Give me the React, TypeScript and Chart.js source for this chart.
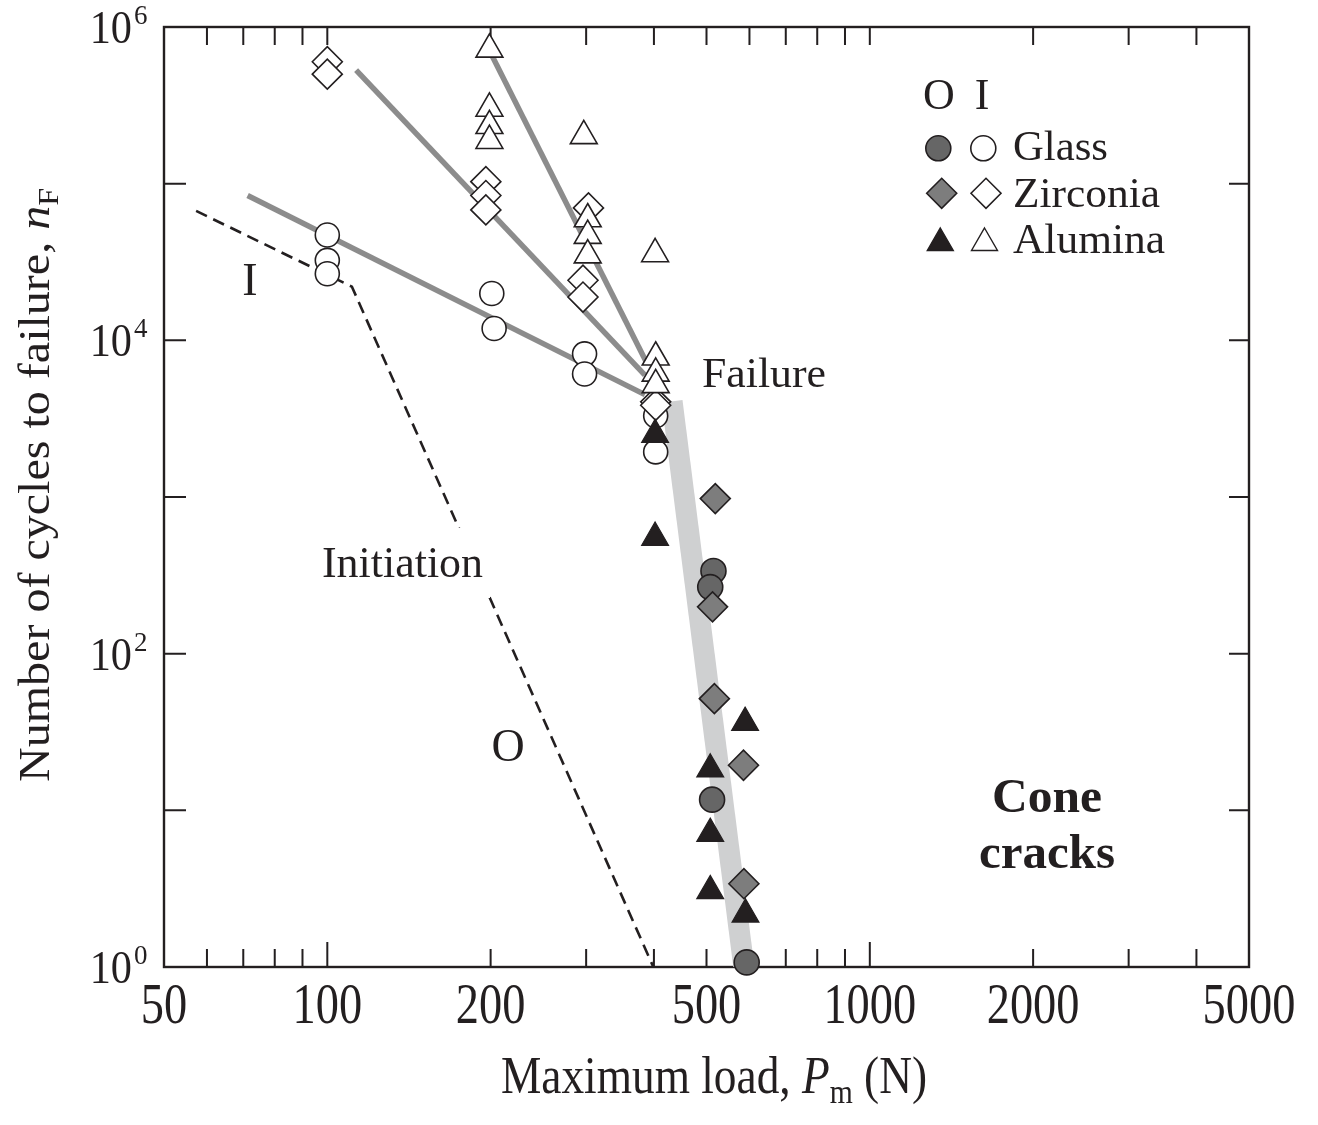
import React, { useEffect, useRef } from 'react';
import { Chart, registerables } from 'chart.js';

Chart.register(...registerables);

const FONT = "'Liberation Serif', 'Times New Roman', serif";
const INK = '#231f20';

// ---------- data (load P in N, cycles n) ----------
// Glass, outer (O) cone cracks - filled circles
const glassOLoad = [515, 508, 512, 593];
const glassOCycles = [337, 266, 11.7, 1.07];
// Zirconia, outer (O) - filled diamonds
const zirconiaOLoad = [519, 513, 517, 585, 586];
const zirconiaOCycles = [977, 199, 51.6, 19.4, 3.4];
// Alumina, outer (O) - filled triangles
const aluminaOLoad = [402, 402, 589, 508, 508, 508, 590];
const aluminaOCycles = [2500, 551, 36.3, 18.3, 7.1, 3.06, 2.17];
// Glass, inner (I) - open circles
const glassILoad = [100, 100, 100, 201, 203, 298, 298, 403, 403];
const glassICycles = [4.7e4, 3.24e4, 2.66e4, 1.99e4, 1.19e4, 8.2e3, 6.1e3, 3.3e3, 1.94e3];
// Zirconia, inner (I) - open diamonds
const zirconiaILoad = [100, 100, 196, 196, 196, 303, 296, 296, 403, 403];
const zirconiaICycles = [6.0e5, 5.0e5, 1.03e5, 8.4e4, 6.8e4, 7.0e4, 2.42e4, 1.89e4, 4.05e3, 3.85e3];
// Alumina, inner (I) - open triangles
const aluminaILoad = [199, 199, 199, 199, 297, 302, 302, 302, 402, 403, 403, 403];
const aluminaICycles = [7.2e5, 3.02e5, 2.34e5, 1.88e5, 2.02e5, 5.95e4, 4.66e4, 3.5e4, 3.56e4, 7.8e3, 6.15e3, 5.2e3];

// fitted lines
const glassFitLoad = [71.3, 385];
const glassFitCycles = [8.4e4, 4.5e3];
const zirconiaFitLoad = [113, 385];
const zirconiaFitCycles = [5.3e5, 6.0e3];
const aluminaFitLoad = [201, 387];
const aluminaFitCycles = [6.6e5, 7.3e3];
const failureBandLoad = [432, 586];
const failureBandCycles = [4.08e3, 1];
const initiationLoad = [57.3, 111, 399];
const initiationCycles = [6.7e4, 2.2e4, 1];

// axes
const xMin = 50;
const xMax = 5000;
const yMin = 1;
const yMax = 1e6;
const xTickValues = [60, 70, 80, 90, 100, 200, 300, 400, 500, 600, 700, 800, 900, 1000, 2000, 3000, 4000];
const xLongTicks = [100, 1000];
const xTickLabels = [50, 100, 200, 500, 1000, 2000, 5000];
const yTickValues = [10, 100, 1e3, 1e4, 1e5];
const yLabelExponents = [0, 2, 4, 6];

const legendRows = ['Glass', 'Zirconia', 'Alumina'];

const pts = (xs: number[], ys: number[]) => xs.map((x, i) => ({ x, y: ys[i] }));

type Run = { text: string; font: string; dy?: number };

function runsWidth(ctx: CanvasRenderingContext2D, runs: Run[]) {
  let w = 0;
  for (const r of runs) {
    ctx.font = r.font;
    w += ctx.measureText(r.text).width;
  }
  return w;
}

function drawRuns(
  ctx: CanvasRenderingContext2D,
  runs: Run[],
  x: number,
  y: number,
  align: 'left' | 'center' | 'right',
  scaleX: number,
  rotate = 0
) {
  const w = runsWidth(ctx, runs);
  ctx.save();
  ctx.translate(x, y);
  if (rotate) ctx.rotate(rotate);
  ctx.scale(scaleX, 1);
  ctx.textAlign = 'left';
  ctx.textBaseline = 'alphabetic';
  ctx.fillStyle = INK;
  let s = align === 'center' ? -w / 2 : align === 'right' ? -w : 0;
  for (const r of runs) {
    ctx.font = r.font;
    ctx.fillText(r.text, s, r.dy || 0);
    s += ctx.measureText(r.text).width;
  }
  ctx.restore();
}

function fitRuns(
  ctx: CanvasRenderingContext2D,
  runs: Run[],
  x: number,
  y: number,
  align: 'left' | 'center' | 'right',
  target: number,
  rotate = 0
) {
  const w = runsWidth(ctx, runs);
  drawRuns(ctx, runs, x, y, align, target / w, rotate);
}

function marker(
  ctx: CanvasRenderingContext2D,
  kind: 'circle' | 'diamond' | 'triangle',
  x: number,
  y: number,
  r: number,
  fill: string,
  lw: number
) {
  ctx.beginPath();
  if (kind === 'circle') {
    ctx.arc(x, y, r, 0, Math.PI * 2);
  } else if (kind === 'diamond') {
    ctx.moveTo(x - r, y);
    ctx.lineTo(x, y - r);
    ctx.lineTo(x + r, y);
    ctx.lineTo(x, y + r);
    ctx.closePath();
  } else {
    ctx.moveTo(x, y - r);
    ctx.lineTo(x + 0.866 * r, y + r / 2);
    ctx.lineTo(x - 0.866 * r, y + r / 2);
    ctx.closePath();
  }
  ctx.fillStyle = fill;
  ctx.fill();
  ctx.lineWidth = lw;
  ctx.strokeStyle = INK;
  ctx.stroke();
}

const overlayPlugin = {
  id: 'overlay',
  beforeDatasetsDraw(chart: any) {
    const { ctx, chartArea: a, scales } = chart;
    const xs = scales.x;
    const ys = scales.y;
    ctx.save();
    ctx.strokeStyle = INK;
    ctx.lineWidth = 2;
    ctx.beginPath();
    xTickValues.forEach((v) => {
      const px = xs.getPixelForValue(v);
      const len = xLongTicks.includes(v) ? 25 : 18;
      ctx.moveTo(px, a.bottom);
      ctx.lineTo(px, a.bottom - len);
      ctx.moveTo(px, a.top);
      ctx.lineTo(px, a.top + 18);
    });
    yTickValues.forEach((v) => {
      const py = ys.getPixelForValue(v);
      ctx.moveTo(a.left, py);
      ctx.lineTo(a.left + 22, py);
      ctx.moveTo(a.right, py);
      ctx.lineTo(a.right - 20, py);
    });
    ctx.stroke();
    ctx.lineWidth = 2.4;
    ctx.strokeRect(a.left, a.top, a.right - a.left, a.bottom - a.top);
    ctx.restore();
  },
  afterDatasetsDraw(chart: any) {
    const { ctx, chartArea: a, scales } = chart;
    const xs = scales.x;
    const ys = scales.y;
    ctx.save();

    // x tick labels
    xTickLabels.forEach((v) => {
      const px = xs.getPixelForValue(v);
      drawRuns(ctx, [{ text: String(v), font: `58px ${FONT}` }], px, a.bottom + 56, 'center', 0.8);
    });
    // y tick labels 10^k
    yLabelExponents.forEach((e) => {
      const py = ys.getPixelForValue(Math.pow(10, e));
      drawRuns(ctx, [{ text: '10', font: `47px ${FONT}` }], 132, py + 16, 'right', 0.9);
      drawRuns(ctx, [{ text: String(e), font: `27px ${FONT}` }], 134, py - 3, 'left', 1);
    });

    // axis titles
    fitRuns(
      ctx,
      [
        { text: 'Maximum load, ', font: `52px ${FONT}` },
        { text: 'P', font: `italic 52px ${FONT}` },
        { text: 'm', font: `34px ${FONT}`, dy: 10 },
        { text: ' (N)', font: `52px ${FONT}` },
      ],
      714,
      1093,
      'center',
      426
    );
    fitRuns(
      ctx,
      [
        { text: 'Number of cycles to failure, ', font: `45px ${FONT}` },
        { text: 'n', font: `italic 45px ${FONT}` },
        { text: 'F', font: `30px ${FONT}`, dy: 9 },
      ],
      49,
      782,
      'left',
      594,
      -Math.PI / 2
    );

    // annotations
    ctx.fillStyle = '#ffffff';
    ctx.fillRect(318, 528, 172, 70);
    fitRuns(ctx, [{ text: 'Initiation', font: `44px ${FONT}` }], 322, 577, 'left', 161);
    fitRuns(ctx, [{ text: 'Failure', font: `43px ${FONT}` }], 702, 387, 'left', 124);
    drawRuns(ctx, [{ text: 'I', font: `46px ${FONT}` }], 250, 295, 'center', 1);
    drawRuns(ctx, [{ text: 'O', font: `46px ${FONT}` }], 508, 761, 'center', 1);
    fitRuns(ctx, [{ text: 'Cone', font: `bold 48px ${FONT}` }], 1047, 812, 'center', 110);
    fitRuns(ctx, [{ text: 'cracks', font: `bold 48px ${FONT}` }], 1047, 868, 'center', 136);

    // legend
    drawRuns(ctx, [{ text: 'O', font: `44px ${FONT}` }], 939, 109, 'center', 1);
    drawRuns(ctx, [{ text: 'I', font: `44px ${FONT}` }], 982, 109, 'center', 1);
    marker(ctx, 'circle', 938.3, 148.3, 12.5, '#666666', 1.6);
    marker(ctx, 'circle', 983.3, 148.3, 12.5, '#ffffff', 1.6);
    marker(ctx, 'diamond', 941.7, 193.3, 15, '#7d7d7d', 1.6);
    marker(ctx, 'diamond', 986, 193.3, 15, '#ffffff', 1.6);
    marker(ctx, 'triangle', 940.3, 243, 15, INK, 1.4);
    marker(ctx, 'triangle', 984.5, 243, 15, '#ffffff', 1.4);
    const baselines = [160, 206.7, 252.7];
    const widths = [95, 147, 152];
    legendRows.forEach((t, i) => {
      fitRuns(ctx, [{ text: t, font: `42px ${FONT}` }], 1013, baselines[i], 'left', widths[i]);
    });

    ctx.restore();
  },
};

export default function App() {
  const ref = useRef<HTMLCanvasElement | null>(null);

  useEffect(() => {
    if (!ref.current) return;
    const openStyle = { backgroundColor: '#ffffff', borderColor: INK, borderWidth: 1.6 };
    const lineBase = { showLine: true, pointRadius: 0, fill: false };
    const chart = new Chart(ref.current, {
      type: 'scatter',
      data: {
        datasets: [
          {
            label: 'Alumina O',
            data: pts(aluminaOLoad, aluminaOCycles),
            pointStyle: 'triangle',
            pointRadius: 15.5,
            backgroundColor: INK,
            borderColor: INK,
            borderWidth: 1.2,
            order: 10,
            clip: false,
          },
          {
            label: 'Zirconia O',
            data: pts(zirconiaOLoad, zirconiaOCycles),
            pointStyle: 'rectRot',
            pointRadius: 15,
            backgroundColor: '#7d7d7d',
            borderColor: INK,
            borderWidth: 1.6,
            order: 15,
            clip: false,
          },
          {
            label: 'Glass O',
            data: pts(glassOLoad, glassOCycles),
            pointStyle: 'circle',
            pointRadius: 12.5,
            backgroundColor: '#666666',
            borderColor: INK,
            borderWidth: 1.6,
            order: 20,
            clip: false,
          },
          {
            label: 'Alumina I',
            data: pts(aluminaILoad, aluminaICycles),
            pointStyle: 'triangle',
            pointRadius: 15.5,
            ...openStyle,
            order: 30,
            clip: false,
          },
          {
            label: 'Zirconia I',
            data: pts(zirconiaILoad, zirconiaICycles),
            pointStyle: 'rectRot',
            pointRadius: 15,
            ...openStyle,
            order: 35,
            clip: false,
          },
          {
            label: 'Glass I',
            data: pts(glassILoad, glassICycles),
            pointStyle: 'circle',
            pointRadius: 12,
            ...openStyle,
            order: 50,
            clip: false,
          },
          {
            label: 'Glass fit',
            data: pts(glassFitLoad, glassFitCycles),
            ...lineBase,
            borderColor: '#8c8c8c',
            borderWidth: 5.5,
            order: 90,
          },
          {
            label: 'Zirconia fit',
            data: pts(zirconiaFitLoad, zirconiaFitCycles),
            ...lineBase,
            borderColor: '#8c8c8c',
            borderWidth: 5.5,
            order: 90,
          },
          {
            label: 'Alumina fit',
            data: pts(aluminaFitLoad, aluminaFitCycles),
            ...lineBase,
            borderColor: '#8c8c8c',
            borderWidth: 5.5,
            order: 90,
          },
          {
            label: 'Initiation',
            data: pts(initiationLoad, initiationCycles),
            ...lineBase,
            borderColor: INK,
            borderWidth: 2.6,
            borderDash: [12, 7],
            order: 95,
          },
          {
            label: 'Failure band',
            data: pts(failureBandLoad, failureBandCycles),
            ...lineBase,
            borderColor: '#cfd0d1',
            borderWidth: 21,
            borderCapStyle: 'butt',
            order: 100,
          },
        ] as any,
      },
      options: {
        responsive: false,
        animation: false,
        events: [],
        layout: { padding: { left: 164, right: 69, top: 27, bottom: 158 } },
        scales: {
          x: { type: 'logarithmic', min: xMin, max: xMax, display: false },
          y: { type: 'logarithmic', min: yMin, max: yMax, display: false },
        },
        plugins: { legend: { display: false }, tooltip: { enabled: false } },
      } as any,
      plugins: [overlayPlugin],
    });
    return () => chart.destroy();
  }, []);

  return (
    <div style={{ position: 'absolute', left: 0, top: 0, width: 1318, height: 1125, background: '#ffffff' }}>
      <canvas ref={ref} width={1318} height={1125} style={{ display: 'block' }} />
    </div>
  );
}
